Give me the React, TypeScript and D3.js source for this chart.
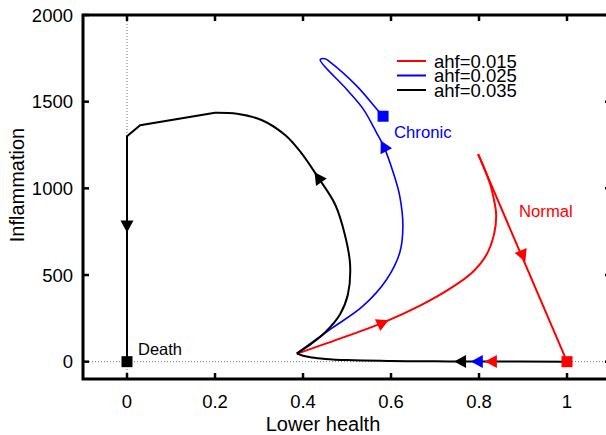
import React from 'react'
import * as d3 from 'd3'

// trajectories in (lower health, inflammation)
const bottomX = [1, 0.8, 0.7, 0.6, 0.5, 0.45, 0.42, 0.4, 0.386]
const bottomY = [0, 1, 2, 4, 9, 16, 24, 34, 48]

const redX = [0.386, 0.484, 0.582, 0.666, 0.734, 0.784, 0.816, 0.834, 0.839, 0.832, 0.825, 0.812, 0.798]
const redY = [46, 133, 225, 323, 421, 513, 612, 733, 848, 958, 1027, 1115, 1197]
const redLineX = [0.798, 1]
const redLineY = [1197, 0]

const blueX = [0.386, 0.461, 0.536, 0.59, 0.62, 0.627, 0.62, 0.605, 0.583, 0.567, 0.537, 0.499, 0.439, 0.45, 0.461, 0.522, 0.571, 0.582]
const blueY = [48, 185, 320, 474, 630, 780, 954, 1092, 1245, 1322, 1457, 1572, 1742, 1748, 1730, 1591, 1447, 1416]

const blackX = [0.386, 0.416, 0.45, 0.484, 0.502, 0.507, 0.495, 0.473, 0.434, 0.393, 0.36, 0.307, 0.25, 0.2]
const blackY = [48, 98, 168, 272, 387, 561, 734, 907, 1064, 1214, 1306, 1393, 1430, 1436]
const blackTopX = [0.2, 0.03, 0, 0]
const blackTopY = [1436, 1364, 1300, 0]

const xTicks = [0, 0.2, 0.4, 0.6, 0.8, 1]
const xTickLabels = ['0', '0.2', '0.4', '0.6', '0.8', '1']
const yTicks = [0, 500, 1000, 1500, 2000]
const yTickLabels = ['0', '500', '1000', '1500', '2000']

const legendNames = ['ahf=0.015', 'ahf=0.025', 'ahf=0.035']
const legendColors = ['#ff0000', '#0000ff', '#000000']

// arrows: position and the point they head to
const arrows = [
  { x: 0.582, y: 225, tx: 0.666, ty: 323, c: '#ff0000' },
  { x: 0.9, y: 609, tx: 1, ty: 0, c: '#ff0000' },
  { x: 0.583, y: 1245, tx: 0.567, ty: 1322, c: '#0000ff' },
  { x: 0.434, y: 1064, tx: 0.393, ty: 1214, c: '#000000' },
  { x: 0, y: 780, tx: 0, ty: 500, c: '#000000' },
  { x: 0.757, y: 1, tx: 0.5, ty: 1, c: '#000000' },
  { x: 0.795, y: 1, tx: 0.5, ty: 1, c: '#0000ff' },
  { x: 0.827, y: 1, tx: 0.5, ty: 1, c: '#ff0000' },
]

const squares = [
  { x: 0, y: 0, c: '#000000' },
  { x: 1, y: 0, c: '#ff0000' },
  { x: 0.582, y: 1416, c: '#0000ff' },
]

const W = 606
const H = 435
const font = '"Liberation Sans", Arial, Helvetica, sans-serif'

export default function App() {
  const x = d3.scaleLinear().domain([-0.1, 1.1]).range([83, 611])
  const y = d3.scaleLinear().domain([-100, 2000]).range([379, 15])

  const pts = (xs: number[], ys: number[]) => xs.map((v, i) => [x(v), y(ys[i])] as [number, number])
  const curve = (xs: number[], ys: number[]) => d3.line().curve(d3.curveCatmullRom.alpha(0.5))(pts(xs, ys)) || ''
  const poly = (xs: number[], ys: number[]) => d3.line()(pts(xs, ys)) || ''

  const arrowPath = (a) => {
    const cx = x(a.x), cy = y(a.y)
    const dx = x(a.tx) - cx, dy = y(a.ty) - cy
    const len = Math.hypot(dx, dy)
    const ux = dx / len, uy = dy / len
    const L = 12, hw = 6.5
    const tip = [cx + ux * L / 2, cy + uy * L / 2]
    const bx = cx - ux * L / 2, by = cy - uy * L / 2
    return `M${tip[0]},${tip[1]}L${bx - uy * hw},${by + ux * hw}L${bx + uy * hw},${by - ux * hw}Z`
  }

  return (
    <svg width={W} height={H} style={{ position: 'absolute', left: 0, top: 0, display: 'block', background: '#fff' }}
      fontFamily={font}>
      {/* zero lines */}
      <line x1={x(0)} x2={x(0)} y1={y(2000)} y2={y(-100)} stroke="#777" strokeWidth={1} strokeDasharray="1,2" />
      <line x1={x(-0.1)} x2={x(1.1)} y1={y(0)} y2={y(0)} stroke="#777" strokeWidth={1} strokeDasharray="1,2" />

      {/* ticks */}
      {xTicks.map((t, i) => (
        <g key={'x' + i}>
          <line x1={x(t)} x2={x(t)} y1={y(-100)} y2={y(-100) - 6} stroke="#000" strokeWidth={2.5} />
          <line x1={x(t)} x2={x(t)} y1={y(2000)} y2={y(2000) + 6} stroke="#000" strokeWidth={2.5} />
          <text x={x(t)} y={y(-100) + 29} textAnchor="middle" fontSize={18.5}>{xTickLabels[i]}</text>
        </g>
      ))}
      {yTicks.map((t, i) => (
        <g key={'y' + i}>
          <line x1={x(-0.1)} x2={x(-0.1) + 6} y1={y(t)} y2={y(t)} stroke="#000" strokeWidth={2.5} />
          <line x1={x(1.1)} x2={x(1.1) - 6} y1={y(t)} y2={y(t)} stroke="#000" strokeWidth={2.5} />
          <text x={73} y={y(t)} dy="0.36em" textAnchor="end" fontSize={18.5}>{yTickLabels[i]}</text>
        </g>
      ))}

      <rect x={x(-0.1)} y={y(2000)} width={x(1.1) - x(-0.1)} height={y(-100) - y(2000)}
        fill="none" stroke="#000" strokeWidth={3} />

      {/* trajectories */}
      <path d={curve(redX, redY)} fill="none" stroke="#ff0000" strokeWidth={2} />
      <path d={poly(redLineX, redLineY)} fill="none" stroke="#ff0000" strokeWidth={2} />
      <path d={curve(blueX, blueY)} fill="none" stroke="#0000ff" strokeWidth={1.6} />
      <path d={curve(blackX, blackY)} fill="none" stroke="#000" strokeWidth={2} />
      <path d={poly(blackTopX, blackTopY)} fill="none" stroke="#000" strokeWidth={2} />
      <path d={curve(bottomX, bottomY)} fill="none" stroke="#000" strokeWidth={2} />

      {arrows.map((a, i) => <path key={'a' + i} d={arrowPath(a)} fill={a.c} />)}
      {squares.map((s, i) => (
        <rect key={'s' + i} x={x(s.x) - 5.5} y={y(s.y) - 5.5} width={11} height={11} fill={s.c} />
      ))}

      {/* annotations */}
      <text x={138} y={355} fontSize={16.5} fill="#000">Death</text>
      <text x={394} y={138} fontSize={16.7} fill="#0000ff">Chronic</text>
      <text x={519} y={217} fontSize={16.7} fill="#ff0000">Normal</text>

      {/* legend */}
      {legendNames.map((n, i) => (
        <g key={'l' + i} transform={`translate(0, ${61 + i * 14.5})`}>
          <line x1={397} x2={426} y1={0} y2={0} stroke={legendColors[i]} strokeWidth={2} />
          <text x={434} y={0} dy="0.36em" fontSize={18.5}>{n}</text>
        </g>
      ))}

      <text x={323} y={431} textAnchor="middle" fontSize={20}>Lower health</text>
      <text transform={`translate(24, 185) rotate(-90)`} textAnchor="middle" fontSize={20}>Inflammation</text>
    </svg>
  )
}
